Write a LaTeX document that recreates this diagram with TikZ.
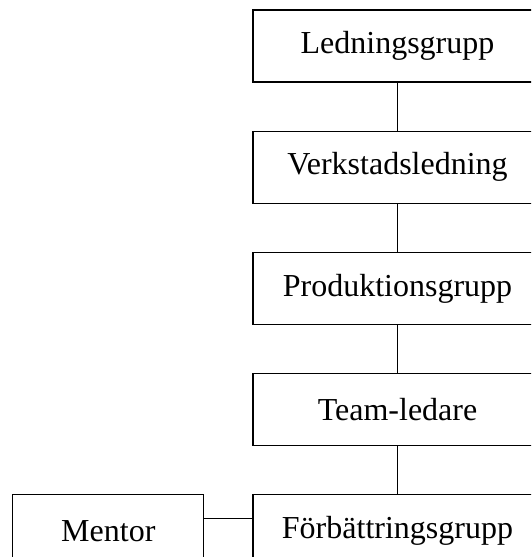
\documentclass[tikz,border=0pt]{standalone}
\usepackage{fontspec}
\setmainfont{Liberation Serif}
\usetikzlibrary{positioning}

\begin{document}
\begin{tikzpicture}[x=1pt,y=1pt,
  orgbox/.style={draw,line width=1.2pt,minimum width=289pt,minimum height=72pt,inner sep=0pt,
    font=\fontsize{32}{38}\selectfont},
  orgline/.style={line width=1.2pt}]
  \clip (0,0) rectangle (531,-557); % 図の範囲（右端と下端で箱が切れている）
  \node[orgbox] (ledning) at (397.5,-46) {Ledningsgrupp}; % 最上位の箱
  \node[orgbox,below=48pt of ledning] (verkstad) {Verkstadsledning}; % 2段目
  \node[orgbox,below=48pt of verkstad] (produktion) {Produktionsgrupp}; % 3段目
  \node[orgbox,below=48pt of produktion] (teamledare) {Team-ledare}; % 4段目
  \node[orgbox,below=48pt of teamledare] (forbattring) {Förbättringsgrupp}; % 最下段（下端で切れる）
  \node[orgbox,minimum width=191pt,left=48pt of forbattring] (mentor) {Mentor}; % 左側の箱
  \draw[orgline] (ledning) -- (verkstad); % 縦の連結線
  \draw[orgline] (verkstad) -- (produktion);
  \draw[orgline] (produktion) -- (teamledare);
  \draw[orgline] (teamledare) -- (forbattring);
  \draw[orgline] ([yshift=12pt]mentor.east) -- ([yshift=12pt]forbattring.west); % 横の連結線（中心より上）
\end{tikzpicture}
\end{document}
